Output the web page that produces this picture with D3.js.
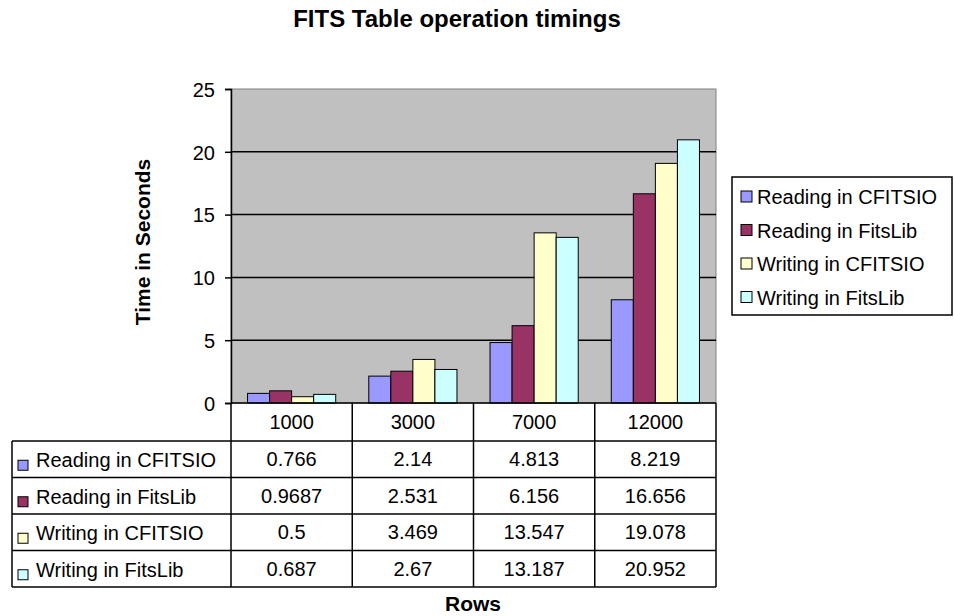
<!DOCTYPE html>
<html>
<head>
<meta charset="utf-8">
<script src="https://cdn.jsdelivr.net/npm/d3@7"></script>
<style>
body { margin: 0; background: #fff; }
text { font-family: "Liberation Sans", Arial, sans-serif; }
</style>
</head>
<body>
<svg width="954" height="616"></svg>
<script>
var categories = ["1000", "3000", "7000", "12000"];
var seriesNames = ["Reading in CFITSIO", "Reading in FitsLib", "Writing in CFITSIO", "Writing in FitsLib"];
var readCfitsio = [0.766, 2.14, 4.813, 8.219];
var readFitslib = [0.9687, 2.531, 6.156, 16.656];
var writeCfitsio = [0.5, 3.469, 13.547, 19.078];
var writeFitslib = [0.687, 2.67, 13.187, 20.952];
var valueLabels = [
    ["0.766", "2.14", "4.813", "8.219"],
    ["0.9687", "2.531", "6.156", "16.656"],
    ["0.5", "3.469", "13.547", "19.078"],
    ["0.687", "2.67", "13.187", "20.952"]
];
var yTicks = [0, 5, 10, 15, 20, 25];
var colors = ["#9999ff", "#993366", "#ffffcc", "#ccffff"];

var series = [readCfitsio, readFitslib, writeCfitsio, writeFitslib];

var svg = d3.select("svg");
var plotLeft = 231, plotRight = 716, plotTop = 89, plotBottom = 403;
var tableLeft = 12, rowH = 36.5, headerH = 38;

var x = d3.scaleBand().domain(categories).range([plotLeft, plotRight]);
// Excel style: gap of 150% of a bar width, split on both sides
var x1 = d3.scaleBand().domain(d3.range(4))
    .range([x.bandwidth() * 0.75 / 5.5, x.bandwidth() * (1 - 0.75 / 5.5)]);
var y = d3.scaleLinear().domain([0, 25]).range([plotBottom, plotTop]);

// plot area
svg.append("rect").attr("x", plotLeft).attr("y", plotTop).attr("width", plotRight - plotLeft).attr("height", plotBottom - plotTop)
    .style("fill", "#c0c0c0").style("stroke", "#808080").style("stroke-width", 1);

svg.append("g").selectAll("line").data(yTicks.slice(1, 5)).enter().append("line")
    .attr("x1", plotLeft).attr("x2", plotRight).attr("y1", function (d) { return y(d); }).attr("y2", function (d) { return y(d); })
    .style("stroke", "#000").style("stroke-width", 1.5);

// bars
svg.append("g").selectAll("g").data(series).enter().append("g")
    .style("fill", function (d, i) { return colors[i]; })
    .each(function (vals, si) {
        d3.select(this).selectAll("rect").data(vals).enter().append("rect")
            .attr("x", function (d, ci) { return x(categories[ci]) + x1(si); })
            .attr("width", x1.bandwidth())
            .attr("y", function (d) { return y(d); })
            .attr("height", function (d) { return plotBottom - y(d); })
            .style("stroke", "#000").style("stroke-width", 1);
    });

// y axis
var yAxis = d3.axisLeft(y).tickValues(yTicks).tickSize(6).tickPadding(10);
var ga = svg.append("g").attr("transform", "translate(" + plotLeft + ",0)").call(yAxis);
ga.select(".domain").style("stroke", "#000").style("stroke-width", 1.5);
ga.selectAll(".tick line").style("stroke", "#000").style("stroke-width", 1.5);
ga.selectAll(".tick text").style("font-size", "20px").style("fill", "#000")
    .style("font-family", "'Liberation Sans', Arial, sans-serif").attr("dy", "0.36em");

// data table
var tg = svg.append("g").style("stroke", "#000").style("stroke-width", 1.5);
var tableBottom = plotBottom + headerH + rowH * 4;
tg.append("line").attr("x1", plotLeft).attr("x2", plotRight).attr("y1", plotBottom).attr("y2", plotBottom);
for (var r = 0; r <= 4; r++) {
    tg.append("line").attr("x1", tableLeft).attr("x2", plotRight)
        .attr("y1", plotBottom + headerH + rowH * r).attr("y2", plotBottom + headerH + rowH * r);
}
tg.append("line").attr("x1", tableLeft).attr("x2", tableLeft).attr("y1", plotBottom + headerH).attr("y2", tableBottom);
categories.forEach(function (c) {
    tg.append("line").attr("x1", x(c)).attr("x2", x(c)).attr("y1", plotBottom).attr("y2", tableBottom);
});
tg.append("line").attr("x1", plotRight).attr("x2", plotRight).attr("y1", plotBottom).attr("y2", tableBottom);

svg.append("g").selectAll("text").data(categories).enter().append("text")
    .attr("x", function (d) { return x(d) + x.bandwidth() / 2; })
    .attr("y", plotBottom + headerH / 2 + 7)
    .attr("text-anchor", "middle").style("font-size", "20px")
    .text(function (d) { return d; });

var rows = svg.append("g").selectAll("g").data(seriesNames).enter().append("g")
    .attr("transform", function (d, i) { return "translate(0," + (plotBottom + headerH + rowH * i) + ")"; });
rows.append("rect").attr("x", tableLeft + 6).attr("y", rowH / 2 + 1).attr("width", 10).attr("height", 10)
    .style("fill", function (d, i) { return colors[i]; }).style("stroke", "#000").style("stroke-width", 1);
rows.append("text").attr("x", tableLeft + 24).attr("y", rowH / 2 + 8).style("font-size", "20px")
    .text(function (d) { return d; });
rows.each(function (d, i) {
    d3.select(this).selectAll("text.v").data(valueLabels[i]).enter().append("text").attr("class", "v")
        .attr("x", function (v, ci) { return x(categories[ci]) + x.bandwidth() / 2; })
        .attr("y", rowH / 2 + 7).attr("text-anchor", "middle").style("font-size", "20px")
        .text(function (v) { return v; });
});

// legend
var lg = svg.append("g");
lg.append("rect").attr("x", 732).attr("y", 177).attr("width", 220).attr("height", 138)
    .style("fill", "#fff").style("stroke", "#000").style("stroke-width", 1.5);
var li = lg.selectAll("g").data(seriesNames).enter().append("g")
    .attr("transform", function (d, i) { return "translate(741," + (196 + i * 33.5) + ")"; });
li.append("rect").attr("x", 0).attr("y", -5).attr("width", 11).attr("height", 11)
    .style("fill", function (d, i) { return colors[i]; }).style("stroke", "#000").style("stroke-width", 1);
li.append("text").attr("x", 16).attr("y", 8).style("font-size", "20px").text(function (d) { return d; });

// titles
svg.append("text").attr("x", 457).attr("y", 27).attr("text-anchor", "middle")
    .style("font-size", "24px").style("font-weight", "bold").text("FITS Table operation timings");
svg.append("text").attr("transform", "translate(150," + ((plotTop + plotBottom) / 2 - 4) + ") rotate(-90)")
    .attr("text-anchor", "middle").style("font-size", "21px").style("font-weight", "bold").text("Time in Seconds");
svg.append("text").attr("x", 473).attr("y", 611).attr("text-anchor", "middle")
    .style("font-size", "21px").style("font-weight", "bold").text("Rows");
</script>
</body>
</html>
